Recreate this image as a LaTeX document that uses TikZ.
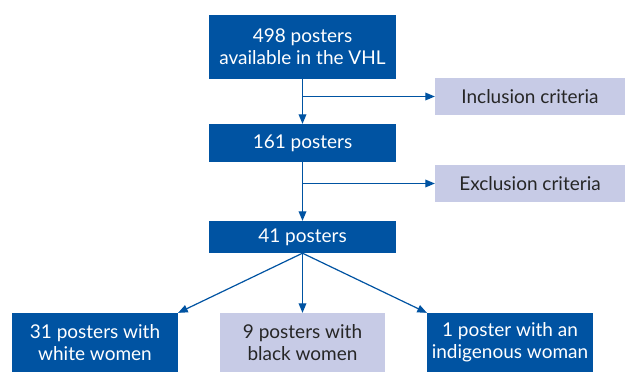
\documentclass[tikz,border=0pt]{standalone}
\usepackage{fontspec}
\setmainfont{Lato}
\usetikzlibrary{arrows}
\definecolor{flowblue}{RGB}{0,83,162}
\definecolor{flowlight}{RGB}{199,203,230}
\tikzset{dark/.style={rectangle,fill=flowblue,text=white,inner sep=0pt,
align=center, font=\fontsize{19}{22}\selectfont},
light/.style={dark,fill=flowlight,text=black!85},
link/.style={draw=flowblue,line width=1.2pt},
>={triangle 45}}

\begin{document}
\begin{tikzpicture}[x=1pt,y=-1pt]
  \useasboundingbox (0,0) rectangle (625,372);
  \node (all) [dark,minimum width=187pt,minimum height=64pt] at (302.5,47) {498 posters\\available in the VHL};
  \node (incl) [light,minimum width=190pt,minimum height=37pt] at (530,96.5) {Inclusion criteria};
  \node (p161) [dark,minimum width=187pt,minimum height=38pt] at (302.5,143) {161 posters};
  \node (excl) [light,minimum width=190pt,minimum height=37pt] at (530,183.5) {Exclusion criteria};
  \node (p41) [dark,minimum width=187pt,minimum height=32pt] at (302.5,237) {41 posters};
  \node (white) [dark,minimum width=166pt,minimum height=59pt] at (95,342.5) {31 posters with\\white women};
  \node (black) [light,minimum width=165pt,minimum height=59pt] at (302.5,342.5) {9 posters with\\black women};
  \node (indig) [dark,minimum width=166pt,minimum height=59pt] at (510,342.5) {1 poster with an\\indigenous woman};

  \coordinate (fork1) at (all.south |- incl.west);
  \coordinate (fork2) at (p161.south |- excl.west);

  \draw [link,->] (all) -- (p161);
  \draw [link,->] (fork1) -- (incl);
  \draw [link,->] (p161) -- (p41);
  \draw [link,->] (fork2) -- (excl);
  \draw [link,->] (p41.south) -- (white.north east);
  \draw [link,->] (p41.south) -- (black);
  \draw [link,->] (p41.south) -- (indig.north west);
\end{tikzpicture}
\end{document}
